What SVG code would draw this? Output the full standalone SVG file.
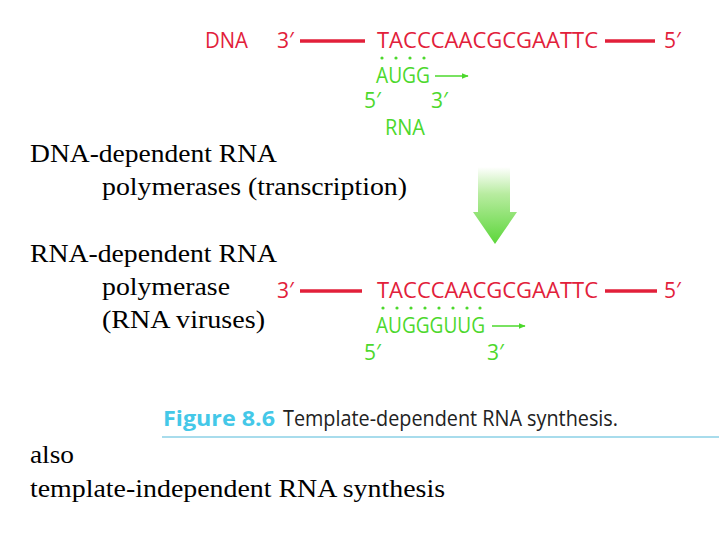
<svg xmlns="http://www.w3.org/2000/svg" width="719" height="539" viewBox="0 0 719 539">
<defs>
<style>
.t{font-family:"Liberation Serif","Times New Roman",serif;font-size:25px;fill:#000}
.r{font-family:"Open Sans","Liberation Sans",sans-serif;font-size:21px;fill:#e2203a}
.g{font-family:"Open Sans","Liberation Sans",sans-serif;font-size:21px;fill:#4cd82c}
.rl{stroke:#e2203a;stroke-width:3.5}
.gl{stroke:#4cd82c;stroke-width:1.6}
.dot{fill:#4cd82c}
</style>
<marker id="ah" viewBox="0 0 10 10" refX="9" refY="5" markerWidth="7" markerHeight="7" markerUnits="userSpaceOnUse" orient="auto"><path d="M0,1 L10,5 L0,9 z" fill="#4cd82c"/></marker>
<linearGradient id="bg" x1="0" y1="0" x2="0" y2="1"><stop offset="0" stop-color="#ffffff"/><stop offset="0.35" stop-color="#b8eca0"/><stop offset="1" stop-color="#5cd63a"/></linearGradient>
</defs>
<rect width="719" height="539" fill="#fff"/>

<g id="text-left">
<text class="t" x="30" y="162" textLength="247" lengthAdjust="spacingAndGlyphs">DNA-dependent RNA</text>
<text class="t" x="102" y="195" textLength="305" lengthAdjust="spacingAndGlyphs">polymerases (transcription)</text>
<text class="t" x="30" y="262" textLength="247" lengthAdjust="spacingAndGlyphs">RNA-dependent RNA</text>
<text class="t" x="102" y="295" textLength="128" lengthAdjust="spacingAndGlyphs">polymerase</text>
<text class="t" x="102" y="328" textLength="163" lengthAdjust="spacingAndGlyphs">(RNA viruses)</text>
<text class="t" x="30" y="463" textLength="44" lengthAdjust="spacingAndGlyphs">also</text>
<text class="t" x="30" y="497" textLength="415" lengthAdjust="spacingAndGlyphs">template-independent RNA synthesis</text>
</g>

<g id="transcription">
<text class="r" x="205" y="48" textLength="43" lengthAdjust="spacingAndGlyphs">DNA</text>
<text class="r" x="277" y="48">3′</text>
<text class="r" x="377" y="48" textLength="221" lengthAdjust="spacingAndGlyphs">TACCCAACGCGAATTC</text>
<text class="r" x="664" y="48">5′</text>
<circle class="dot" cx="382" cy="58" r="1.6"/>
<circle class="dot" cx="396" cy="58" r="1.6"/>
<circle class="dot" cx="410" cy="58" r="1.6"/>
<circle class="dot" cx="424" cy="58" r="1.6"/>
<text class="g" x="376" y="83" textLength="54" lengthAdjust="spacingAndGlyphs">AUGG</text>
<text class="g" x="364" y="108">5′</text>
<text class="g" x="431" y="108">3′</text>
<text class="g" x="385" y="135" textLength="40" lengthAdjust="spacingAndGlyphs">RNA</text>
</g>

<g id="big-arrow">
<path d="M478,167 L510,167 L510,212 L517,212 L495,244 L473,212 L478,212 Z" fill="url(#bg)"/>
</g>

<g id="replication">
<text class="r" x="277" y="298">3′</text>
<text class="r" x="377" y="298" textLength="221" lengthAdjust="spacingAndGlyphs">TACCCAACGCGAATTC</text>
<text class="r" x="664" y="298">5′</text>
<circle class="dot" cx="383" cy="308" r="1.6"/>
<circle class="dot" cx="397" cy="308" r="1.6"/>
<circle class="dot" cx="411" cy="308" r="1.6"/>
<circle class="dot" cx="425" cy="308" r="1.6"/>
<circle class="dot" cx="439" cy="308" r="1.6"/>
<circle class="dot" cx="453" cy="308" r="1.6"/>
<circle class="dot" cx="467" cy="308" r="1.6"/>
<circle class="dot" cx="480" cy="308" r="1.6"/>
<text class="g" x="376" y="333" textLength="109" lengthAdjust="spacingAndGlyphs">AUGGGUUG</text>
<text class="g" x="364" y="360">5′</text>
<text class="g" x="487" y="360">3′</text>
</g>

<g id="caption">
<text x="163" y="426" font-family="'Open Sans','Liberation Sans',sans-serif" font-size="21" font-weight="bold" fill="#44c8e8" textLength="112" lengthAdjust="spacingAndGlyphs">Figure 8.6</text>
<text x="283" y="426" font-family="'Open Sans','Liberation Sans',sans-serif" font-size="21" fill="#222" textLength="335" lengthAdjust="spacingAndGlyphs">Template-dependent RNA synthesis.</text>
<line x1="162" y1="437" x2="719" y2="437" stroke="#a8dcec" stroke-width="2"/>
</g>

<g id="connectors">
<line class="rl" x1="300" y1="41" x2="365" y2="41"/>
<line class="rl" x1="605" y1="41" x2="655" y2="41"/>
<line class="gl" x1="435" y1="76" x2="468" y2="76" marker-end="url(#ah)"/>
<line class="rl" x1="300" y1="291" x2="362" y2="291"/>
<line class="rl" x1="605" y1="291" x2="657" y2="291"/>
<line class="gl" x1="492" y1="326" x2="525" y2="326" marker-end="url(#ah)"/>
</g>
</svg>
